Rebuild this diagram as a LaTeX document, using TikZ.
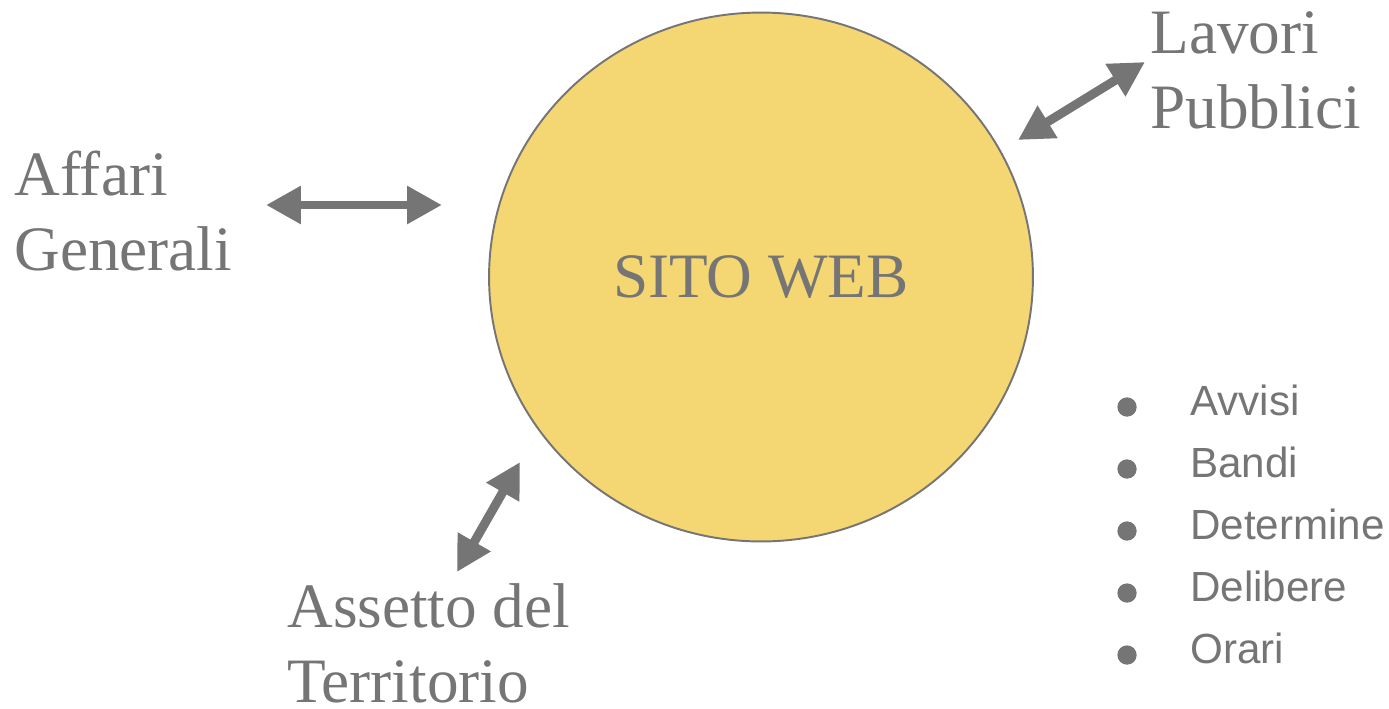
\documentclass[tikz,border=0pt]{standalone}
\usepackage{fontspec}
\setmainfont{Liberation Serif}
\newfontfamily\listfont{Liberation Sans}
\usetikzlibrary{arrows.meta,shapes.geometric}
\definecolor{grigio}{HTML}{757575}
\definecolor{giallo}{HTML}{F4D672}

\begin{document}
\begin{tikzpicture}[x=0.02cm,y=-0.02cm,
  ufficio/.style={anchor=base west,inner sep=0pt,align=left,text=grigio,font=\fontsize{36}{42.5}\selectfont},
  legame/.style={draw=grigio,line width=5.1pt,{Triangle[length=19.8pt,width=20.4pt]}-{Triangle[length=19.8pt,width=20.4pt]}},
  voce/.style={anchor=base west,inner sep=0pt,text=grigio,font=\listfont\fontsize{24}{29}\selectfont},
  punto/.style={circle,fill=grigio,inner sep=0pt,minimum size=11pt}]
\useasboundingbox (0,0) rectangle (1389,708);

% sito centrale
\node[ellipse,draw=grigio,line width=1.1pt,fill=giallo,minimum width=10.88cm,minimum height=10.58cm,
  text=grigio,font=\fontsize{36}{42.5}\selectfont] (sito) at (761,277) {SITO WEB};

% uffici (base = ultima riga)
\node[ufficio] (affari) at (14,270) {Affari\\Generali};
\node[ufficio] (lavori) at (1150,128) {Lavori\\Pubblici};
\node[ufficio] (assetto) at (287,702) {Assetto del\\Territorio};

\coordinate (affari-a) at (266,205);
\coordinate (affari-b) at (442,205);
\coordinate (lavori-a) at (1018,140);
\coordinate (lavori-b) at (1145,62);
\coordinate (assetto-a) at (520,462);
\coordinate (assetto-b) at (457,572);

\draw[legame] (affari-a) -- (affari-b);
\draw[legame] (lavori-a) -- (lavori-b);
\draw[legame] (assetto-a) -- (assetto-b);

% elenco
\foreach \testo [count=\i] in {Avvisi,Bandi,Determine,Delibere,Orari}{
    \node[punto] (punto-\i) at (1127,407+62*\i-62) {};
    \node[voce] (voce-\i) at (1190,415+62*\i-62) {\testo};
}

\end{tikzpicture}
\end{document}
